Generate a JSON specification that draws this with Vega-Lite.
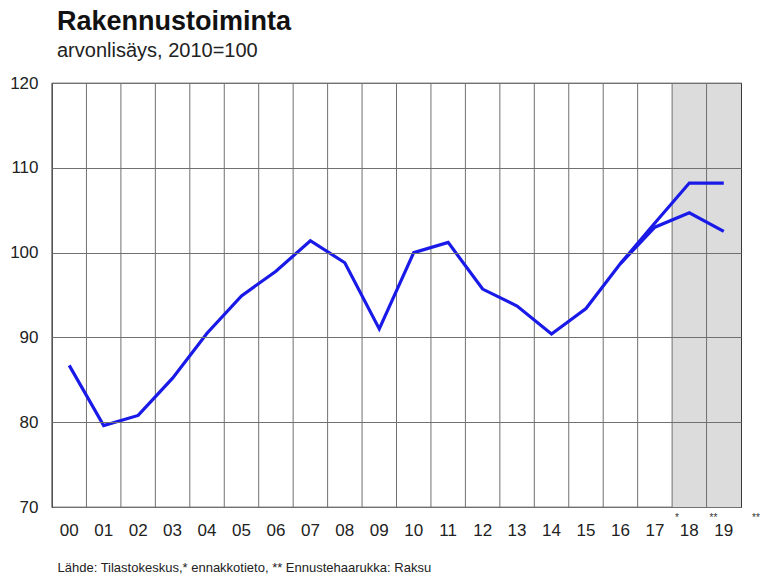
{
  "$schema": "https://vega.github.io/schema/vega-lite/v6.json",
  "autosize": "none",
  "width": 689,
  "height": 424,
  "padding": {"left": 52, "top": 83, "right": 20, "bottom": 68},
  "background": "white",
  "config": {
    "font": "Liberation Sans",
    "view": {"stroke": "#222", "strokeWidth": 1.2}
  },
  "title": {
    "text": "Rakennustoiminta",
    "subtitle": "arvonlisäys,  2010=100",
    "anchor": "start",
    "frame": "group",
    "dx": 5,
    "offset": 12,
    "font": "Liberation Sans",
    "fontSize": 27,
    "fontWeight": "bold",
    "color": "#111",
    "subtitleFont": "Liberation Sans",
    "subtitleFontSize": 20,
    "subtitleColor": "#222",
    "subtitlePadding": 5
  },
  "datasets": {
    "series": [
      {"yr": "00", "series": "low", "v": 86.7},
      {"yr": "01", "series": "low", "v": 79.6},
      {"yr": "02", "series": "low", "v": 80.8},
      {"yr": "03", "series": "low", "v": 85.2},
      {"yr": "04", "series": "low", "v": 90.5},
      {"yr": "05", "series": "low", "v": 94.9},
      {"yr": "06", "series": "low", "v": 97.8},
      {"yr": "07", "series": "low", "v": 101.4},
      {"yr": "08", "series": "low", "v": 98.8},
      {"yr": "09", "series": "low", "v": 91.0},
      {"yr": "10", "series": "low", "v": 100.0},
      {"yr": "11", "series": "low", "v": 101.2},
      {"yr": "12", "series": "low", "v": 95.7},
      {"yr": "13", "series": "low", "v": 93.7},
      {"yr": "14", "series": "low", "v": 90.4},
      {"yr": "15", "series": "low", "v": 93.4},
      {"yr": "16", "series": "low", "v": 98.7},
      {"yr": "17", "series": "low", "v": 103.0},
      {"yr": "18", "series": "low", "v": 104.7},
      {"yr": "19", "series": "low", "v": 102.5},
      {"yr": "16", "series": "high", "v": 98.7},
      {"yr": "17", "series": "high", "v": 103.5},
      {"yr": "18", "series": "high", "v": 108.2},
      {"yr": "19", "series": "high", "v": 108.2}
    ],
    "shade": [{"yr": "18"}, {"yr": "19"}],
    "stars": [
      {"yr": "17", "t": "*"},
      {"yr": "18", "t": "**"}
    ],
    "stars2": [
      {"yr": "19", "t": "**"}
    ]
  },
  "encoding": {
    "x": {
      "field": "yr",
      "type": "ordinal",
      "scale": {"type": "band", "domain": ["00","01","02","03","04","05","06","07","08","09","10","11","12","13","14","15","16","17","18","19"], "paddingInner": 0, "paddingOuter": 0},
      "axis": {
        "title": "Lähde: Tilastokeskus,* ennakkotieto, ** Ennustehaarukka:  Raksu",
        "titleFont": "Liberation Sans",
        "titleFontSize": 13,
        "titleFontWeight": "normal",
        "titleColor": "#222",
        "titleAnchor": "start",
        "titleAlign": "left",
        "titleBaseline": "alphabetic",
        "titleX": 5,
        "titleY": 64,
        "labelAngle": 0,
        "labelFontSize": 17,
        "labelColor": "#222",
        "labelPadding": 15,
        "ticks": false,
        "domain": false,
        "grid": false
      }
    }
  },
  "layer": [
    {
      "data": {"name": "shade"},
      "mark": {"type": "rect", "color": "#dcdcdc"},
      "encoding": {}
    },
    {
      "data": {"name": "series"},
      "transform": [{"filter": "datum.series == 'low'"}],
      "mark": {"type": "rule", "color": "#707070", "strokeWidth": 1},
      "encoding": {"x": {"field": "yr", "type": "ordinal", "bandPosition": 0}}
    },
    {
      "data": {"name": "series"},
      "mark": {"type": "line", "color": "#1a1ae8", "strokeWidth": 3.2, "strokeJoin": "miter"},
      "encoding": {
        "y": {
          "field": "v",
          "type": "quantitative",
          "scale": {"domain": [70, 120], "nice": false, "zero": false},
          "axis": {
            "title": null,
            "values": [70, 80, 90, 100, 110, 120],
            "labelFontSize": 17,
            "labelColor": "#222",
            "labelPadding": 14,
            "ticks": false,
            "domain": false,
            "grid": true,
            "gridColor": "#707070",
            "gridWidth": 1,
            "zindex": 1
          }
        },
        "detail": {"field": "series"}
      }
    },
    {
      "data": {"name": "stars"},
      "mark": {"type": "text", "fontSize": 10, "color": "#333", "dx": 3, "dy": 11, "align": "left"},
      "encoding": {
        "x": {"field": "yr", "type": "ordinal", "bandPosition": 1},
        "y": {"datum": 70},
        "text": {"field": "t"}
      }
    },
    {
      "data": {"name": "stars2"},
      "mark": {"type": "text", "fontSize": 10, "color": "#333", "dx": 11, "dy": 11, "align": "left"},
      "encoding": {
        "x": {"field": "yr", "type": "ordinal", "bandPosition": 1},
        "y": {"datum": 70},
        "text": {"field": "t"}
      }
    }
  ]
}
